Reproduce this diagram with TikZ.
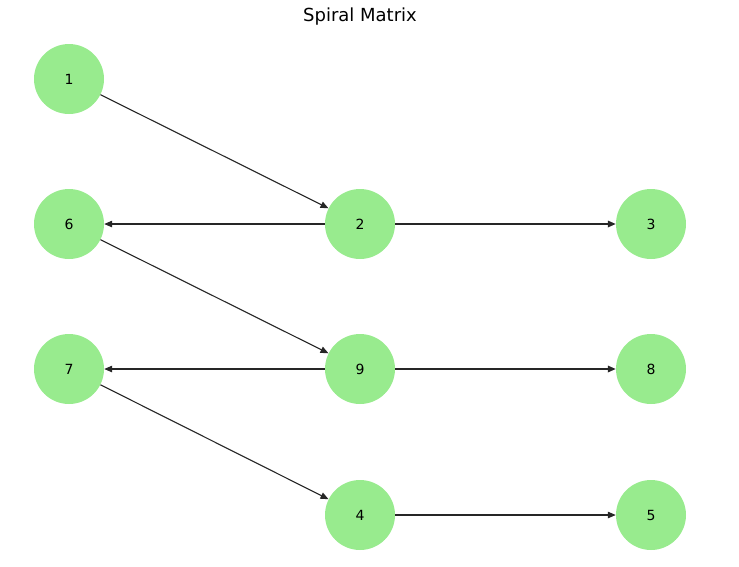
\documentclass[tikz,border=0pt]{standalone}
\usepackage{fontspec}
\setmainfont{DejaVu Sans}
\usetikzlibrary{arrows.meta}
\definecolor{nodegreen}{RGB}{152,235,142}
\begin{document}
\begin{tikzpicture}[x=1pt,y=-1pt,
  vert/.style={circle,fill=nodegreen,minimum size=70pt,inner sep=0pt,font=\fontsize{14}{16}\selectfont},
  edge/.style={draw=black!85,line width=1.1pt,-{Stealth[length=8pt,width=6.5pt,inset=0pt]}},
  thickedge/.style={edge,line width=1.6pt}]
\useasboundingbox (0,0) rectangle (739,566);
\node[font=\fontsize{18}{21}\selectfont] (title) at (360,17) {Spiral Matrix};
\node[vert] (n1) at (69,79) {1};
\node[vert] (n6) at (69,224) {6};
\node[vert] (n2) at (360,224) {2};
\node[vert] (n3) at (651,224) {3};
\node[vert] (n7) at (69,369) {7};
\node[vert] (n9) at (360,369) {9};
\node[vert] (n8) at (651,369) {8};
\node[vert] (n4) at (360,515) {4};
\node[vert] (n5) at (651,515) {5};
\draw[edge] (n1) -- (n2);
\draw[edge] (n2) -- (n6);
\draw[thickedge] (n2) -- (n3);
\draw[edge] (n6) -- (n9);
\draw[edge] (n9) -- (n7);
\draw[thickedge] (n9) -- (n8);
\draw[edge] (n7) -- (n4);
\draw[edge] (n4) -- (n5);
\end{tikzpicture}
\end{document}
